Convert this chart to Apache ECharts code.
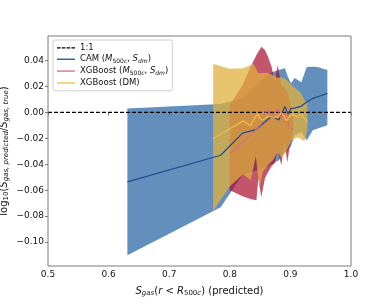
<!DOCTYPE html>
<html><head><meta charset="utf-8">
<script src="https://cdn.jsdelivr.net/npm/echarts@6/dist/echarts.min.js"></script>
<style>html,body{margin:0;padding:0;background:#fff}#c{width:390px;height:304px}</style>
</head><body><div id="c"></div>
<script>
// ---- data ----
const refX = [0.5, 1.0];
const refY = [0, 0];

const camX    = [0.631, 0.785, 0.821, 0.843, 0.869, 0.881, 0.891, 0.896, 0.901, 0.907, 0.918, 0.927, 0.937, 0.945, 0.961];
const camMean = [-0.0536, -0.0330, -0.0160, -0.0133, -0.0029, -0.0059, 0.0045, -0.0013, 0.0031, 0.0033, 0.0049, 0.0080, 0.0107, 0.0121, 0.0147];
const camHigh = [0.0031, 0.0066, 0.0111, 0.0211, 0.0311, 0.0327, 0.0342, 0.0273, 0.0226, 0.0265, 0.0234, 0.0350, 0.0352, 0.0350, 0.0327];
const camLow  = [-0.1103, -0.0732, -0.0480, -0.0450, -0.0400, -0.0369, -0.0307, -0.0291, -0.0260, -0.0175, -0.0152, -0.0214, -0.0137, -0.0124, -0.0098];

const xgbX    = [0.800, 0.821, 0.835, 0.844, 0.847, 0.852, 0.858, 0.863, 0.869, 0.874, 0.879, 0.885, 0.890, 0.895, 0.899, 0.905];
const xgbMean = [-0.0317, -0.0230, -0.0175, -0.0129, -0.0114, -0.0090, -0.0005, 0.0018, -0.0036, 0.0002, 0.0026, -0.0052, -0.0005, -0.0060, -0.0114, -0.0129];
const xgbHigh = [0.0056, 0.0211, 0.0358, 0.0443, 0.0466, 0.0507, 0.0481, 0.0430, 0.0352, 0.0236, 0.0366, 0.0211, 0.0188, 0.0157, 0.0095, -0.0060];
const xgbLow  = [-0.0600, -0.0647, -0.0670, -0.0678, -0.0508, -0.0655, -0.0508, -0.0461, -0.0415, -0.0392, -0.0291, -0.0407, -0.0237, -0.0384, -0.0253, -0.0137];

const dmX    = [0.7725, 0.800, 0.822, 0.8345, 0.838, 0.843, 0.8466, 0.8493, 0.854, 0.8625, 0.871, 0.879, 0.8855, 0.894, 0.902, 0.912, 0.918, 0.923, 0.928];
const dmMean = [-0.0201, -0.0125, -0.0065, -0.0102, -0.0067, -0.0029, -0.0013, -0.0044, -0.0060, -0.0029, -0.0036, -0.0036, -0.0005, -0.0063, -0.0013, -0.0036, -0.0013, -0.0044, -0.0075];
const dmHigh = [0.0373, 0.0338, 0.0342, 0.0366, 0.0379, 0.0342, 0.0304, 0.0304, 0.0304, 0.0304, 0.0289, 0.0265, 0.0273, 0.0250, 0.0211, 0.0172, 0.0149, 0.0095, 0.0072];
const dmLow  = [-0.0763, -0.0570, -0.0477, -0.0523, -0.0446, -0.0338, -0.0485, -0.0585, -0.0461, -0.0407, -0.0369, -0.0307, -0.0353, -0.0291, -0.0214, -0.0191, -0.0206, -0.0222, -0.0137];

const xTicks = [0.5, 0.6, 0.7, 0.8, 0.9, 1.0];
const yTicks = [-0.10, -0.08, -0.06, -0.04, -0.02, 0.00, 0.02, 0.04];
const seriesNames = ['1:1', 'CAM', 'XGB', 'DM'];

// ---- chart ----
const FONT = 'DejaVu Sans';
const chart = echarts.init(document.getElementById('c'), null, {renderer: 'canvas'});

function pairs(xs, ys) { return xs.map((x, i) => [x, ys[i]]); }

function band(xs, lo, hi, fill, z) {
  return {
    type: 'custom', silent: true, z: z, clip: true,
    data: [[xs[0], lo[0]]],
    encode: {x: 0, y: 1},
    renderItem: function (params, api) {
      const pts = [];
      for (let i = 0; i < xs.length; i++) pts.push(api.coord([xs[i], hi[i]]));
      for (let i = xs.length - 1; i >= 0; i--) pts.push(api.coord([xs[i], lo[i]]));
      return {type: 'polygon', shape: {points: pts}, style: {fill: fill, stroke: null}};
    }
  };
}

function line(name, xs, ys, color, dash, z) {
  return {
    type: 'line', name: name, data: pairs(xs, ys), symbol: 'none', z: z,
    lineStyle: {color: color, width: 1.2, type: dash || 'solid'},
    itemStyle: {color: color},
    emphasis: {disabled: true}, animation: false
  };
}

const fmtMinus = (v, d) => (v < -1e-9 ? '\u2212' : '') + Math.abs(v).toFixed(d);

const legendRich = {
  n: {fontFamily: FONT, fontSize: 8.5, lineHeight: 10, color: '#111'},
  i: {fontFamily: FONT, fontSize: 8.5, lineHeight: 10, fontStyle: 'italic', color: '#111'},
  s: {fontFamily: FONT, fontSize: 6, lineHeight: 5, verticalAlign: 'bottom', color: '#111'},
  si: {fontFamily: FONT, fontSize: 6, lineHeight: 5, verticalAlign: 'bottom', fontStyle: 'italic', color: '#111'}
};
const legendLabels = {
  '1:1': '{n|1:1}',
  'CAM': '{n|CAM (}{i|M}{s|500}{si|c}{n|, }{i|S}{si|dm}{n|)}',
  'XGB': '{n|XGBoost (}{i|M}{s|500}{si|c}{n|, }{i|S}{si|dm}{n|)}',
  'DM': '{n|XGBoost (DM)}'
};
const ICON_DASH = 'path://M0,0H3.6V1.3H0Z M4.8,0H8.4V1.3H4.8Z M9.6,0H13.2V1.3H9.6Z M14.4,0H18V1.3H14.4Z';
const ICON_SOLID = 'path://M0,0H18V1.3H0Z';

const axisRich = {
  n: {fontFamily: FONT, fontSize: 10, lineHeight: 12, color: '#111'},
  i: {fontFamily: FONT, fontSize: 10, lineHeight: 12, fontStyle: 'italic', color: '#111'},
  s: {fontFamily: FONT, fontSize: 7, lineHeight: 6, verticalAlign: 'bottom', color: '#111'},
  si: {fontFamily: FONT, fontSize: 7, lineHeight: 6, verticalAlign: 'bottom', fontStyle: 'italic', color: '#111'}
};

const option = {
  animation: false,
  backgroundColor: '#fff',
  grid: {left: 48, right: 39, top: 36, bottom: 38, outerBoundsMode: 'none', containLabel: false,
         show: true, borderColor: '#7a7a7a', borderWidth: 1, backgroundColor: 'transparent', z: 10},
  legend: {
    data: [
      {name: '1:1', icon: ICON_DASH},
      {name: 'CAM', icon: ICON_SOLID},
      {name: 'XGB', icon: ICON_SOLID},
      {name: 'DM', icon: ICON_SOLID}
    ],
    orient: 'vertical', left: 53, top: 40,
    itemWidth: 18, itemHeight: 10, itemGap: 2.4,
    padding: [3.3, 4, 3.3, 4],
    backgroundColor: 'rgba(255,255,255,0.85)', borderColor: '#d0d0d0', borderWidth: 1, borderRadius: 2,
    formatter: n => legendLabels[n],
    textStyle: {rich: legendRich, fontFamily: FONT, fontSize: 8.5},
    selectedMode: false, z: 20
  },
  xAxis: {
    type: 'value', min: 0.5, max: 1.0,
    axisLine: {show: false},
    splitLine: {show: false},
    axisTick: {show: true, length: 3, lineStyle: {color: '#7a7a7a'}, customValues: xTicks},
    axisLabel: {customValues: xTicks, formatter: v => fmtMinus(v, 1), fontFamily: FONT, fontSize: 9, color: '#111', margin: 4},
    name: '{i|S}{si|gas}{n|(}{i|r}{n| < }{i|R}{s|500}{si|c}{n|) (predicted)}',
    nameLocation: 'middle', nameGap: 19, nameMoveOverlap: false,
    nameTextStyle: {rich: axisRich}
  },
  yAxis: {
    type: 'value', min: -0.1185, max: 0.059,
    axisLine: {show: false},
    splitLine: {show: false},
    axisTick: {show: true, length: 3, lineStyle: {color: '#7a7a7a'}, customValues: yTicks},
    axisLabel: {customValues: yTicks, formatter: v => fmtMinus(v, 2), fontFamily: FONT, fontSize: 9, color: '#111', margin: 4},
    name: '{n|log}{s|10}{n|(}{i|S}{si|gas, predicted}{n|/}{i|S}{si|gas, true}{n|)}',
    nameLocation: 'middle', nameGap: 38, nameRotate: 90, nameMoveOverlap: false,
    nameTextStyle: {rich: axisRich}
  },
  series: [
    band(camX, camLow, camHigh, 'rgba(31,95,158,0.7)', 1),
    band(xgbX, xgbLow, xgbHigh, 'rgba(171,11,45,0.7)', 2),
    band(dmX, dmLow, dmHigh, 'rgba(226,176,62,0.75)', 3),
    line('1:1', refX, refY, '#000', [4, 2], 6),
    line('CAM', camX, camMean, '#1a4d92', null, 7),
    line('XGB', xgbX, xgbMean, '#d86a86', null, 7),
    line('DM', dmX, dmMean, '#f0bc48', null, 7)
  ]
};
chart.setOption(option);
</script>
</body></html>
